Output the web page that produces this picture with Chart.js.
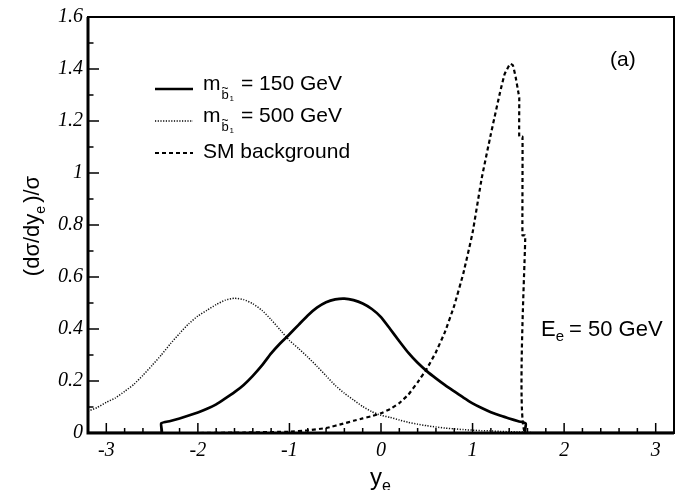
<!DOCTYPE html>
<html>
<head>
<meta charset="utf-8">
<script src="https://cdn.jsdelivr.net/npm/chart.js@4.4.0/dist/chart.umd.min.js"></script>
<style>
  html, body { margin: 0; padding: 0; background: #fff; }
  #chart { display: block; }
</style>
</head>
<body>
<canvas id="chart" width="676" height="490"></canvas>
<script>
// axis ticks
var xTicks = [-3, -2, -1, 0, 1, 2, 3];
var xTickLabels = ['-3', '-2', '-1', '0', '1', '2', '3'];
var yTicks = [0, 0.2, 0.4, 0.6, 0.8, 1, 1.2, 1.4, 1.6];
var yTickLabels = ['0', '0.2', '0.4', '0.6', '0.8', '1', '1.2', '1.4', '1.6'];

// m(b1) = 150 GeV (solid)
var m150X = [-3.2, -2.4, -2.4, -2.3, -2.2, -2.1, -2.0, -1.9, -1.8, -1.7, -1.6, -1.5, -1.4, -1.3, -1.2, -1.1,
  -1.0, -0.9, -0.8, -0.7, -0.6, -0.5, -0.4, -0.3, -0.2, -0.1, 0.0, 0.1, 0.2, 0.3, 0.4, 0.5, 0.6, 0.7,
  0.8, 0.9, 1.0, 1.1, 1.2, 1.3, 1.4, 1.5, 1.58, 1.58, 3.2];
var m150Y = [0, 0, 0.037, 0.046, 0.056, 0.067, 0.079, 0.093, 0.110, 0.133, 0.157, 0.185, 0.220, 0.260, 0.306, 0.345,
  0.380, 0.416, 0.452, 0.482, 0.503, 0.514, 0.517, 0.511, 0.498, 0.477, 0.446, 0.400, 0.353, 0.308, 0.270, 0.238, 0.210, 0.184,
  0.160, 0.136, 0.114, 0.096, 0.080, 0.067, 0.056, 0.045, 0.037, 0, 0];

// m(b1) = 500 GeV (dotted)
var m500X = [-3.2, -3.1, -3.0, -2.9, -2.8, -2.7, -2.6, -2.5, -2.4, -2.3, -2.2, -2.1, -2.0, -1.9, -1.8, -1.7,
  -1.6, -1.5, -1.4, -1.3, -1.2, -1.1, -1.0, -0.9, -0.8, -0.7, -0.6, -0.5, -0.4, -0.3, -0.2, -0.1,
  0.0, 0.1, 0.2, 0.3, 0.4, 0.5, 0.6, 0.7, 0.8, 0.9, 1.0, 1.1, 1.2, 1.3, 1.4, 1.5, 1.6, 1.7, 3.2];
var m500Y = [0.084, 0.098, 0.118, 0.135, 0.160, 0.187, 0.222, 0.260, 0.300, 0.343, 0.383, 0.420, 0.450, 0.472, 0.494, 0.511,
  0.518, 0.513, 0.497, 0.472, 0.436, 0.396, 0.356, 0.325, 0.292, 0.257, 0.220, 0.183, 0.153, 0.127, 0.102, 0.082,
  0.068, 0.060, 0.050, 0.041, 0.034, 0.028, 0.023, 0.019, 0.016, 0.013, 0.011, 0.009, 0.008, 0.006, 0.005, 0.004, 0.003, 0, 0];

// SM background (dashed)
var smX = [-3.2, -2.0, -1.5, -1.0, -0.8, -0.6, -0.4, -0.3, -0.2, -0.1, 0.0, 0.1, 0.2, 0.3, 0.4, 0.5, 0.6, 0.7,
  0.8, 0.9, 1.0, 1.1, 1.2, 1.3, 1.35, 1.41, 1.44, 1.47, 1.50, 1.51, 1.51, 1.545, 1.545, 1.575, 1.575, 3.2];
var smY = [0, 0, 0.002, 0.005, 0.010, 0.019, 0.037, 0.047, 0.056, 0.065, 0.076, 0.092, 0.115, 0.148, 0.195, 0.247, 0.311, 0.39,
  0.49, 0.615, 0.77, 0.98, 1.15, 1.31, 1.38, 1.42, 1.415, 1.37, 1.31, 1.29, 1.14, 1.14, 0.76, 0.76, 0, 0];

function points(xs, ys) {
  return xs.map(function (x, i) { return { x: x, y: ys[i] }; });
}

var SANS = '"Liberation Sans", Arial, sans-serif';

// draws a run of text pieces; each piece: [text, size, dy, gapAfter]
function richText(ctx, pieces, x, y) {
  pieces.forEach(function (p) {
    ctx.font = p[1] + 'px ' + SANS;
    ctx.fillText(p[0], x, y + (p[2] || 0));
    x += ctx.measureText(p[0]).width + (p[3] || 0);
  });
}
function richWidth(ctx, pieces) {
  var w = 0;
  pieces.forEach(function (p) {
    ctx.font = p[1] + 'px ' + SANS;
    w += ctx.measureText(p[0]).width + (p[3] || 0);
  });
  return w;
}

// frame and inward ticks, ROOT style
var framePlugin = {
  id: 'frame',
  afterDatasetsDraw: function (chart) {
    var ctx = chart.ctx, a = chart.chartArea, sx = chart.scales.x, sy = chart.scales.y;
    ctx.save();
    ctx.strokeStyle = '#000';
    ctx.lineWidth = 1.5;
    ctx.beginPath();
    for (var i = -16; i <= 16; i++) {
      var px = sx.getPixelForValue(i * 0.2);
      var len = (i % 5 === 0) ? 10 : 5;
      ctx.moveTo(px, a.bottom);
      ctx.lineTo(px, a.bottom - len);
    }
    for (var j = 0; j <= 16; j++) {
      var py = sy.getPixelForValue(j * 0.1);
      var l2 = (j % 2 === 0) ? 11 : 5.5;
      ctx.moveTo(a.left, py);
      ctx.lineTo(a.left + l2, py);
    }
    ctx.stroke();
    ctx.lineWidth = 2;
    ctx.strokeRect(a.left, a.top, a.right - a.left, a.bottom - a.top);
    ctx.lineWidth = 3;
    ctx.beginPath();
    ctx.moveTo(a.left, a.top);
    ctx.lineTo(a.left, a.bottom);
    ctx.lineTo(a.right, a.bottom);
    ctx.stroke();
    ctx.restore();
  }
};

// legend, labels and axis titles
var textPlugin = {
  id: 'texts',
  afterDraw: function (chart) {
    var ctx = chart.ctx;
    ctx.save();
    ctx.fillStyle = '#000';
    ctx.strokeStyle = '#000';
    ctx.textBaseline = 'alphabetic';
    ctx.textAlign = 'left';

    // legend samples
    ctx.lineWidth = 2.5;
    ctx.beginPath(); ctx.moveTo(155, 89); ctx.lineTo(193, 89); ctx.stroke();
    ctx.lineWidth = 1.5; ctx.setLineDash([1.2, 1.5]);
    ctx.beginPath(); ctx.moveTo(155, 121); ctx.lineTo(193, 121); ctx.stroke();
    ctx.lineWidth = 2.2; ctx.setLineDash([4, 3]);
    ctx.beginPath(); ctx.moveTo(155, 153); ctx.lineTo(193, 153); ctx.stroke();
    ctx.setLineDash([]);

    [90, 122].forEach(function (b, k) {
      ctx.font = '21px ' + SANS;
      ctx.fillText('m', 203, b);
      ctx.font = '13px ' + SANS;
      ctx.fillText('b', 221.5, b + 9);
      ctx.font = '12px ' + SANS;
      ctx.fillText('~', 221.5, b + 2);
      ctx.font = '8px ' + SANS;
      ctx.fillText('1', 229.5, b + 11);
      ctx.font = '21px ' + SANS;
      ctx.fillText(k === 0 ? '= 150 GeV' : '= 500 GeV', 241, b);
    });
    ctx.font = '21px ' + SANS;
    ctx.fillText('SM background', 203, 158);

    ctx.fillText('(a)', 610, 66);

    richText(ctx, [['E', 22], ['e', 15, 5, 5], ['= 50 GeV', 22]], 541, 336);

    // x title
    richText(ctx, [['y', 24], ['e', 16, 6]], 370, 485);

    // y title
    var yt = [['(d\u03c3/dy', 22], ['e', 14, 6, 3], [')/\u03c3', 22]];
    var w = richWidth(ctx, yt);
    ctx.translate(39, 226);
    ctx.rotate(-Math.PI / 2);
    richText(ctx, yt, -w / 2, 0);
    ctx.restore();
  }
};

var tickFont = { family: '"Liberation Serif", "Times New Roman", serif', style: 'italic', size: 20 };

new Chart(document.getElementById('chart'), {
  type: 'line',
  data: {
    datasets: [
      { label: 'm150', data: points(m150X, m150Y), borderColor: '#000', borderWidth: 2.7, tension: 0.2 },
      { label: 'm500', data: points(m500X, m500Y), borderColor: '#111', borderWidth: 1.5, borderDash: [1.2, 1.5], tension: 0.2 },
      { label: 'SM background', data: points(smX, smY), borderColor: '#000', borderWidth: 2.2, borderDash: [4, 3], tension: 0.1 }
    ]
  },
  options: {
    responsive: false,
    animation: false,
    parsing: false,
    elements: { point: { radius: 0 }, line: { fill: false } },
    layout: { padding: { top: 15, right: 2, left: 0, bottom: 0 } },
    plugins: { legend: { display: false }, tooltip: { enabled: false } },
    scales: {
      x: {
        type: 'linear', min: -3.2, max: 3.2,
        grid: { display: false, drawTicks: false },
        border: { display: false },
        afterBuildTicks: function (s) { s.ticks = xTicks.map(function (v) { return { value: v }; }); },
        afterFit: function (s) { s.height = 57; },
        ticks: {
          font: tickFont, color: '#000', padding: 6, maxRotation: 0, autoSkip: false,
          callback: function (v, i) { return xTickLabels[i]; }
        }
      },
      y: {
        type: 'linear', min: 0, max: 1.6,
        grid: { display: false, drawTicks: false },
        border: { display: false },
        afterBuildTicks: function (s) { s.ticks = yTicks.map(function (v) { return { value: v }; }); },
        afterFit: function (s) { s.width = 88; },
        ticks: {
          font: tickFont, color: '#000', padding: 5, autoSkip: false,
          callback: function (v, i) { return yTickLabels[i]; }
        }
      }
    }
  },
  plugins: [framePlugin, textPlugin]
});
</script>
</body>
</html>
